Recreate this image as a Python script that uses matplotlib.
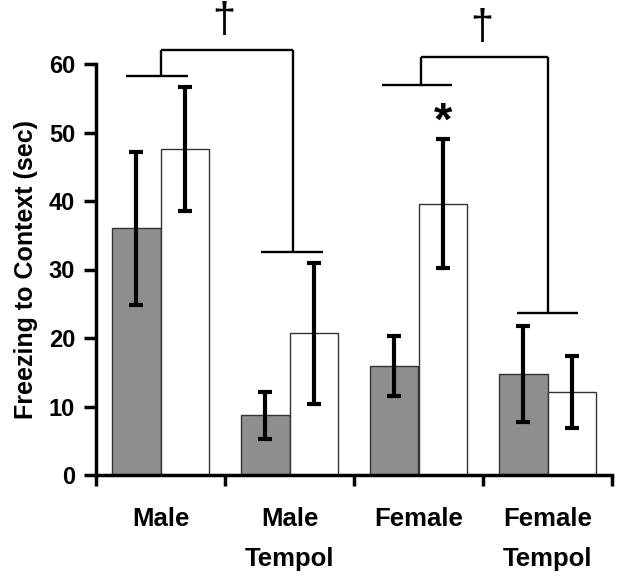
import matplotlib
matplotlib.use("Agg")
import matplotlib.pyplot as plt
import numpy as np

categories = ["Male", "Male\nTempol", "Female", "Female\nTempol"]
gray_values = [36.0, 8.7, 15.9, 14.8]
gray_errors = [11.2, 3.4, 4.4, 7.0]
white_values = [47.6, 20.7, 39.6, 12.1]
white_errors = [9.1, 10.3, 9.4, 5.3]
y_ticks = [0, 10, 20, 30, 40, 50, 60]

plt.rcParams['font.family'] = ['Liberation Sans', 'DejaVu Sans']

fig = plt.figure(figsize=(6.24, 5.76), dpi=100)
ax = fig.add_axes([96/624, 101/576, 516/624, 411/576])

x = np.arange(len(categories))
off = 0.188
w = 0.376
ax.bar(x - off, gray_values, w, color="#8e8e8e", edgecolor="#333333", linewidth=1.0, zorder=2)
ax.bar(x + off, white_values, w, color="white", edgecolor="#333333", linewidth=1.0, zorder=2)
ax.errorbar(x - off, gray_values, yerr=gray_errors, fmt="none", ecolor="black",
            elinewidth=3.0, capsize=5, capthick=3.0, zorder=3)
ax.errorbar(x + off, white_values, yerr=white_errors, fmt="none", ecolor="black",
            elinewidth=3.0, capsize=5, capthick=3.0, zorder=3)

ax.set_xlim(-0.5, 3.5)
ax.set_ylim(0, 60)
ax.set_yticks(y_ticks)
ax.set_yticklabels([str(t) for t in y_ticks], fontsize=17, fontweight="bold")
ax.set_xticks(np.arange(-0.5, 4.0, 1.0))
ax.set_xticklabels([])
ax.set_xticks(x, minor=True)
ax.set_xticklabels(categories, minor=True, fontsize=18.5, fontweight="bold", linespacing=1.85)
ax.tick_params(axis="x", which="minor", length=0, pad=23)
ax.tick_params(axis="x", which="major", length=8, width=2.5, direction="out")
ax.tick_params(axis="y", length=9, width=2.5, direction="out", pad=6)
for s in ["top", "right"]:
    ax.spines[s].set_visible(False)
for s in ["left", "bottom"]:
    ax.spines[s].set_linewidth(2.5)

ax.set_ylabel("Freezing to Context (sec)", fontsize=18, fontweight="bold", labelpad=8)

# significance brackets (data coords)
lw = 1.7
def L(xs, ys):
    ax.plot(xs, ys, color="black", lw=lw, clip_on=False, solid_capstyle="butt", zorder=4)

# Male bracket
L([-0.27, 0.21], [58.3, 58.3])
L([0.0, 0.0], [58.3, 62.0])
L([0.0, 1.03], [62.0, 62.0])
L([1.03, 1.03], [62.0, 32.6])
L([0.78, 1.26], [32.6, 32.6])
ax.text(0.49, 63.3, "†", ha="center", va="bottom", fontsize=30, clip_on=False)

# Female bracket
L([1.72, 2.26], [57.0, 57.0])
L([2.02, 2.02], [57.0, 61.0])
L([2.02, 3.0], [61.0, 61.0])
L([3.0, 3.0], [61.0, 23.6])
L([2.76, 3.24], [23.6, 23.6])
ax.text(2.49, 62.3, "†", ha="center", va="bottom", fontsize=30, clip_on=False)

# star above Female white bar
ax.text(2.0 + off, 54.6, "*", ha="center", va="top", fontsize=34, fontweight="bold")

fig.savefig("out.png", dpi=100)
